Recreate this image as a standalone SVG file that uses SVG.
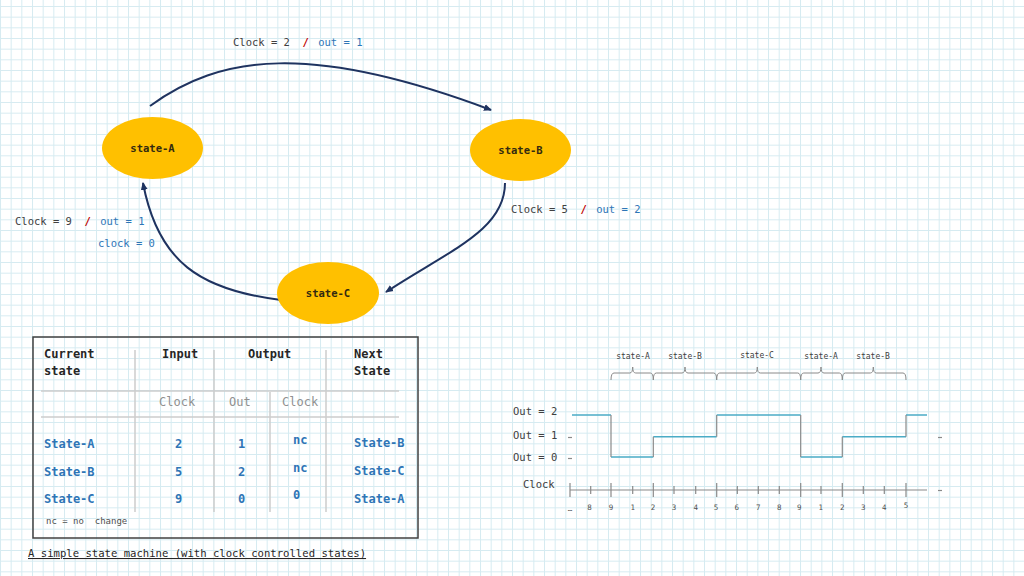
<svg xmlns="http://www.w3.org/2000/svg" width="1024" height="576" viewBox="0 0 1024 576">
<defs>
<pattern id="grid" width="10.667" height="10.667" patternUnits="userSpaceOnUse" x="0" y="6">
<path d="M0,0.5 H10.667 M0.5,0 V10.667" fill="none" stroke="#d6ebf1" stroke-width="1"/>
</pattern>
<marker id="arr" markerWidth="8" markerHeight="8" refX="7" refY="4" orient="auto" markerUnits="userSpaceOnUse">
<path d="M0,0.5 L8,4 L0,7.5 Z" fill="#1f3360"/>
</marker>
<style>
text{font-family:"DejaVu Sans Mono","Liberation Mono",monospace;}
.st{font-size:10.5px;font-weight:bold;fill:#332a10;text-anchor:middle;}
.lbl{font-size:10.5px;fill:#404040;}
.sl{fill:#c00000;font-weight:bold;}
.bl{fill:#2e75b6;}
.edge{fill:none;stroke:#1f3360;stroke-width:2;marker-end:url(#arr);}
.th{font-size:12px;font-weight:bold;fill:#262626;}
.sub{font-size:12px;fill:#909090;}
.val{font-size:12px;font-weight:bold;fill:#2e75b6;}
.col{stroke:#cccccc;stroke-width:1.5;}
.tl{font-size:10.5px;fill:#404040;}
.num{font-size:7.5px;fill:#505050;text-anchor:middle;}
.sn{font-size:8px;fill:#404040;text-anchor:middle;}
.brace{fill:none;stroke:#8a8a8a;stroke-width:1;}
.sig{fill:none;stroke:#4bacc6;stroke-width:1.5;}
.sigv{fill:none;stroke:#8a8a8a;stroke-width:1.2;}
.ax{stroke:#8a8a8a;stroke-width:1.2;}
</style>
</defs>
<rect width="1024" height="576" fill="#ffffff"/>
<rect width="1024" height="576" fill="url(#grid)"/>

<g id="connectors">
<path class="edge" d="M150,106 C220,55 310,42 491,110"/>
<path class="edge" d="M505,183 C505,230 450,250 386,292"/>
<path class="edge" d="M281,300 C200,290 158,262 143,183"/>
</g>

<g id="state-A">
<ellipse cx="152.5" cy="148" rx="50.5" ry="31" fill="#ffc000"/>
<text class="st" x="152.5" y="152">state-A</text>
</g>
<g id="state-B">
<ellipse cx="520.5" cy="150" rx="50.5" ry="31" fill="#ffc000"/>
<text class="st" x="520.5" y="154">state-B</text>
</g>
<g id="state-C">
<ellipse cx="328" cy="293" rx="51" ry="31" fill="#ffc000"/>
<text class="st" x="328" y="297">state-C</text>
</g>

<g id="edge-labels">
<text class="lbl" x="233" y="46" xml:space="preserve">Clock = 2  <tspan class="sl">/</tspan> <tspan class="bl" dx="3">out = 1</tspan></text>
<text class="lbl" x="511" y="213" xml:space="preserve">Clock = 5  <tspan class="sl">/</tspan> <tspan class="bl" dx="3">out = 2</tspan></text>
<text class="lbl" x="15" y="225" xml:space="preserve">Clock = 9  <tspan class="sl">/</tspan> <tspan class="bl" dx="3">out = 1</tspan></text>
<text class="lbl bl" x="98" y="247">clock = 0</text>
</g>

<g id="table">
<rect x="33" y="337" width="385" height="201" fill="none" stroke="#404040" stroke-width="1.5"/>
<line class="col" x1="135" y1="350" x2="135" y2="512"/>
<line class="col" x1="214" y1="350" x2="214" y2="512"/>
<line class="col" x1="326" y1="350" x2="326" y2="512"/>
<line class="col" x1="270" y1="392" x2="270" y2="512"/>
<line class="col" x1="41" y1="391" x2="399" y2="391"/>
<line class="col" x1="41" y1="417" x2="399" y2="417"/>
<text class="th" x="44" y="358">Current</text>
<text class="th" x="44" y="375">state</text>
<text class="th" x="162" y="358">Input</text>
<text class="th" x="248" y="358">Output</text>
<text class="th" x="354" y="358">Next</text>
<text class="th" x="354" y="375">State</text>
<text class="sub" x="159" y="406">Clock</text>
<text class="sub" x="229" y="406">Out</text>
<text class="sub" x="282" y="406">Clock</text>
<text class="val" x="44" y="448">State-A</text>
<text class="val" x="175" y="448">2</text>
<text class="val" x="238" y="448">1</text>
<text class="val" x="293" y="444">nc</text>
<text class="val" x="354" y="447">State-B</text>
<text class="val" x="44" y="476">State-B</text>
<text class="val" x="175" y="476">5</text>
<text class="val" x="238" y="476">2</text>
<text class="val" x="293" y="472">nc</text>
<text class="val" x="354" y="475">State-C</text>
<text class="val" x="44" y="503">State-C</text>
<text class="val" x="175" y="503">9</text>
<text class="val" x="238" y="503">0</text>
<text class="val" x="293" y="499">0</text>
<text class="val" x="354" y="503">State-A</text>
<text x="46" y="524" font-size="9px" fill="#505050" xml:space="preserve">nc = no  change</text>
</g>
<text x="28" y="557" font-size="10.6px" fill="#262626" text-decoration="underline">A simple state machine (with clock controlled states)</text>

<g id="timing">
<text class="sn" x="633" y="359">state-A</text>
<text class="sn" x="685" y="359">state-B</text>
<text class="sn" x="757" y="358">state-C</text>
<text class="sn" x="821" y="359">state-A</text>
<text class="sn" x="873" y="359">state-B</text>
<path class="brace" d="M611,380 Q611,373 614,373 L629.7,373 Q632.7,373 632.7,367 Q632.7,373 635.7,373 L650.3,373 Q653.3,373 653.3,380"/>
<path class="brace" d="M653.3,380 Q653.3,373 656.3,373 L682,373 Q685,373 685,367 Q685,373 688,373 L713.7,373 Q716.7,373 716.7,380"/>
<path class="brace" d="M716.7,380 Q716.7,373 719.7,373 L754.3,373 Q757.3,373 757.3,367 Q757.3,373 760.3,373 L797.7,373 Q800.7,373 800.7,380"/>
<path class="brace" d="M800.7,380 Q800.7,373 803.7,373 L818,373 Q821,373 821,367 Q821,373 824,373 L839.3,373 Q842.3,373 842.3,380"/>
<path class="brace" d="M842.3,380 Q842.3,373 845.3,373 L870.3,373 Q873.3,373 873.3,367 Q873.3,373 876.3,373 L903,373 Q906,373 906,380"/>

<text class="tl" x="513" y="415">Out = 2</text>
<text class="tl" x="513" y="439">Out = 1</text>
<text class="tl" x="513" y="461">Out = 0</text>
<line class="ax" x1="568" y1="437.5" x2="572" y2="437.5"/>
<line class="ax" x1="568" y1="458.5" x2="572" y2="458.5"/>
<line class="ax" x1="938" y1="437.5" x2="942" y2="437.5"/>

<path class="sig" d="M572,415 H611 M611,457 H653.3 M653.3,436.7 H716.7 M716.7,415 H800.7 M800.7,457 H842.3 M842.3,436.7 H906 M906,415 H927"/>
<path class="sigv" d="M611,415 V457 M653.3,457 V436.7 M716.7,436.7 V415 M800.7,415 V457 M842.3,457 V436.7 M906,436.7 V415"/>

<text class="tl" x="523" y="488">Clock</text>
<line class="ax" x1="570" y1="490" x2="927" y2="490"/>
<line class="ax" x1="938" y1="490.5" x2="942" y2="490.5"/>
<path class="ax" fill="none" d="M570,483 V497 M611,483 V497 M653.3,483 V497 M716.7,483 V497 M800.7,483 V497 M842.3,483 V497 M906,483 V497 M590.7,486 V494 M632.7,486 V494 M674,486 V494 M695.7,486 V494 M737.3,486 V494 M758.3,486 V494 M779.3,486 V494 M821,486 V494 M863.3,486 V494 M884.3,486 V494"/>
<text class="num" x="570" y="511">…</text>
<text class="num" x="589.5" y="510">8</text>
<text class="num" x="611" y="510">9</text>
<text class="num" x="632.7" y="510">1</text>
<text class="num" x="653" y="510">2</text>
<text class="num" x="674" y="510">3</text>
<text class="num" x="695.7" y="510">4</text>
<text class="num" x="716" y="510">5</text>
<text class="num" x="736.7" y="510">6</text>
<text class="num" x="758.3" y="510">7</text>
<text class="num" x="779.3" y="510">8</text>
<text class="num" x="799.3" y="510">9</text>
<text class="num" x="820.7" y="510">1</text>
<text class="num" x="842.3" y="510">2</text>
<text class="num" x="863.3" y="510">3</text>
<text class="num" x="884.3" y="510">4</text>
<text class="num" x="906" y="508">5</text>
</g>
</svg>
